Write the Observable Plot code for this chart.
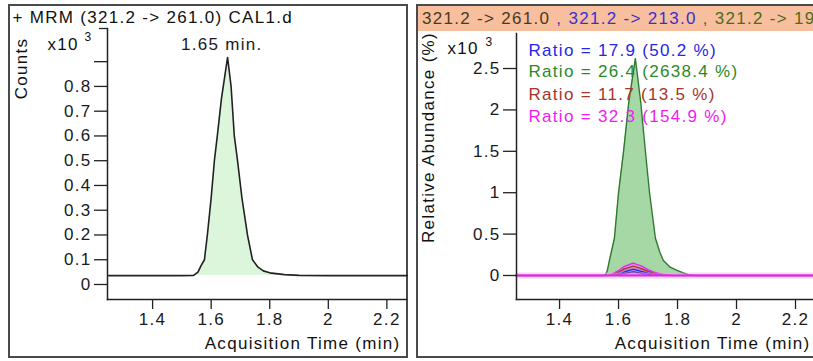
<!DOCTYPE html>
<html>
<head>
<meta charset="utf-8">
<script src="https://cdn.jsdelivr.net/npm/d3@7"></script>
<script src="https://cdn.jsdelivr.net/npm/@observablehq/plot@0.6"></script>
<style>
  html, body { margin: 0; padding: 0; background: #fff; }
  #root { position: relative; width: 813px; height: 361px; overflow: hidden; background: #fff;
          font-family: "Liberation Sans", Arial, sans-serif; }
  .panel { position: absolute; box-sizing: border-box; border: 2px solid #4a4a4a; }
  .chart { position: absolute; }
  #header { position: absolute; left: 416px; top: 4px; width: 400px; height: 27px; box-sizing: border-box;
            background: #f8bf9f; border-top: 2px solid #4a4a4a; border-left: 2px solid #4a4a4a;
            font-size: 17px; letter-spacing: 1.3px; line-height: 25px; padding-left: 4px; white-space: nowrap; overflow: hidden; }
</style>
</head>
<body>
<div id="root">
  <div class="panel" style="left:8px; top:4px; width:400px; height:354px;"></div>
  <div class="panel" style="left:416px; top:4px; width:420px; height:354px;"></div>
  <div id="header"></div>
</div>
<script>
// ---------- data ----------
const xTicks = [1.4, 1.6, 1.8, 2, 2.2];

// Left: MRM (321.2 -> 261.0) CAL1.d, counts x10^3
const leftTime   = [1.25, 1.50, 1.54, 1.555, 1.565, 1.577, 1.587, 1.60, 1.611, 1.621, 1.635, 1.656, 1.668, 1.679, 1.690, 1.705, 1.724, 1.741, 1.76, 1.778, 1.80, 1.85, 1.90, 2.0, 2.27];
const leftCounts = [0.036, 0.036, 0.037, 0.05, 0.075, 0.10, 0.20, 0.35, 0.50, 0.60, 0.75, 0.917, 0.80, 0.60, 0.50, 0.35, 0.20, 0.10, 0.07, 0.055, 0.047, 0.040, 0.037, 0.036, 0.036];
const leftBaseline = 0.036;
const leftYTicks = [0, 0.1, 0.2, 0.3, 0.4, 0.5, 0.6, 0.7, 0.8, 0.9];
const leftYLabels = ["0", "0.1", "0.2", "0.3", "0.4", "0.5", "0.6", "0.7", "0.8", ""];
const leftPeakLabel = "1.65 min.";
const leftPeakTime = 1.65;
const leftPeakValue = 0.917;

// Right: overlaid transitions, relative abundance x10^3
const rightTime1  = [1.25, 1.55, 1.556, 1.562, 1.569, 1.586, 1.600, 1.617, 1.635, 1.657, 1.675, 1.691, 1.705, 1.725, 1.740, 1.752, 1.775, 1.800, 1.82, 1.837, 1.86, 2.27];
const rightGreen  = [0, 0, 0.01, 0.06, 0.18, 0.45, 1.0, 1.5, 2.1, 2.62, 2.1, 1.5, 1.0, 0.45, 0.28, 0.18, 0.10, 0.06, 0.03, 0.01, 0, 0];
const rightTimeM  = [1.25, 1.56, 1.58, 1.60, 1.62, 1.65, 1.68, 1.70, 1.72, 1.75, 1.78, 2.27];
const rightMagenta= [0, 0, 0.02, 0.06, 0.11, 0.15, 0.11, 0.07, 0.04, 0.015, 0, 0];
const rightTimeB  = [1.25, 1.57, 1.60, 1.62, 1.65, 1.68, 1.70, 1.73, 1.76, 2.27];
const rightBrown  = [0, 0, 0.04, 0.08, 0.115, 0.08, 0.05, 0.02, 0, 0];
const rightTimeL  = [1.25, 1.58, 1.61, 1.63, 1.65, 1.67, 1.70, 1.73, 1.75, 2.27];
const rightBlue   = [0, 0, 0.03, 0.055, 0.075, 0.055, 0.03, 0.01, 0, 0];
const rightTimeP  = [1.25, 1.59, 1.62, 1.65, 1.68, 1.71, 1.73, 2.27];
const rightPurple = [0, 0, 0.025, 0.045, 0.025, 0.008, 0, 0];
const rightYTicks = [0, 0.5, 1, 1.5, 2, 2.5];
const rightYLabels = ["0", "0.5", "1", "1.5", "2", "2.5"];

const ratioLabels = ["Ratio = 17.9 (50.2 %)", "Ratio = 26.4 (2638.4 %)", "Ratio = 11.7 (13.5 %)", "Ratio = 32.3 (154.9 %)"];
const ratioColors = ["#2626e6", "#2a8a2a", "#a8342a", "#f020f0"];

const headerParts = ["321.2 -> 261.0", " , 321.2 -> 213.0", " , 321.2 -> 195.0"];
const headerColors = ["#4a3a1c", "#3a2fd0", "#4d6a1a"];

const leftTitle = "+ MRM (321.2 -> 261.0) CAL1.d";
const leftYTitle = "Counts";
const rightYTitle = "Relative Abundance (%)";
const xTitle = "Acquisition Time (min)";

// ---------- helpers ----------
const zip = (t, v) => t.map((x, i) => ({t: x, v: v[i]}));
const style = "font-family: 'Liberation Sans', Arial, sans-serif; font-size: 17px; letter-spacing: 1.3px; color: #1a1a1a; background: transparent; overflow: visible;";
const txt = (s, o) => Plot.text([s], {frameAnchor: "top-left", lineAnchor: "middle", textAnchor: "start", fill: "#111", ...o});

// ---------- left chart ----------
const left = Plot.plot({
  width: 399, height: 352,
  marginLeft: 99, marginRight: 1, marginTop: 23, marginBottom: 58,
  style,
  x: {domain: [1.246, 2.267]},
  y: {domain: [-0.0606, 1.034]},
  marks: [
    Plot.areaY(zip(leftTime, leftCounts), {x: "t", y1: () => leftBaseline, y2: "v", fill: "#dcf6dc"}),
    Plot.lineY(zip(leftTime, leftCounts), {x: "t", y: "v", stroke: "#222", strokeWidth: 1.6}),
    Plot.axisY({ticks: leftYTicks, tickSize: 13, tickPadding: 3, label: null,
      tickFormat: d => leftYLabels[leftYTicks.indexOf(d)], stroke: "#222", strokeWidth: 1.3}),
    Plot.axisY({ticks: [1.034], tickSize: 8, tickFormat: () => "", label: null, stroke: "#222", strokeWidth: 1.3}),
    Plot.axisX({ticks: xTicks, tickSize: 10, tickPadding: 3, label: null, tickFormat: d => String(d), stroke: "#222", strokeWidth: 1.3}),
    Plot.frame({anchor: "left", stroke: "#222", strokeWidth: 1.5}),
    Plot.frame({anchor: "bottom", stroke: "#222", strokeWidth: 1.5}),
    Plot.text([leftPeakLabel], {x: () => leftPeakTime, y: () => leftPeakValue, dy: -13, dx: -4, fill: "#1a1a1a"}),
    txt(leftTitle, {dx: -95, dy: -11}),
    txt(leftYTitle, {dx: -86, dy: 40, rotate: -90, textAnchor: "middle"}),
    txt("x10", {dx: -60, dy: 16}),
    txt("3", {dx: -23, dy: 9, fontSize: 12}),
    Plot.text([xTitle], {frameAnchor: "bottom-right", lineAnchor: "middle", dx: -6, dy: 44, textAnchor: "end", fill: "#111"})
  ]
});
left.classList.add("chart");
left.style.left = "8px"; left.style.top = "5px";

// ---------- right chart ----------
const ratioOffsets = [17, 38, 61, 83];
const ratioMarks = ratioLabels.map((lab, i) => txt(lab, {dx: 12, dy: ratioOffsets[i], fill: ratioColors[i]}));

const right = Plot.plot({
  width: 397, height: 352,
  marginLeft: 100, marginRight: 0, marginTop: 28, marginBottom: 58,
  style,
  x: {domain: [1.254, 2.261]},
  y: {domain: [-0.29, 2.923]},
  marks: [
    Plot.areaY(zip(rightTime1, rightGreen), {x: "t", y: "v", fill: "#a6d8a6"}),
    Plot.lineY(zip(rightTime1, rightGreen), {x: "t", y: "v", stroke: "#2e7a2e", strokeWidth: 1.4}),
    Plot.areaY(zip(rightTimeM, rightMagenta), {x: "t", y: "v", fill: "#f080f0", fillOpacity: 0.6}),
    Plot.lineY(zip(rightTimeM, rightMagenta), {x: "t", y: "v", stroke: "#ee22ee", strokeWidth: 1.4}),
    Plot.areaY(zip(rightTimeB, rightBrown), {x: "t", y: "v", fill: "#c060c0", fillOpacity: 0.5}),
    Plot.lineY(zip(rightTimeB, rightBrown), {x: "t", y: "v", stroke: "#a8342a", strokeWidth: 1.2}),
    Plot.areaY(zip(rightTimeL, rightBlue), {x: "t", y: "v", fill: "#9a9af0", fillOpacity: 0.7}),
    Plot.lineY(zip(rightTimeL, rightBlue), {x: "t", y: "v", stroke: "#2626e6", strokeWidth: 1.2}),
    Plot.lineY(zip(rightTimeP, rightPurple), {x: "t", y: "v", stroke: "#5a1a8a", strokeWidth: 1.2}),
    Plot.ruleY([0], {stroke: "#f6a6f6", strokeWidth: 6, strokeOpacity: 0.45}),
    Plot.ruleY([0], {stroke: "#e81ee8", strokeWidth: 2}),
    Plot.axisY({ticks: rightYTicks, tickSize: 13, tickPadding: 3, label: null,
      tickFormat: d => rightYLabels[rightYTicks.indexOf(d)], stroke: "#222", strokeWidth: 1.3}),
    Plot.axisX({ticks: xTicks, tickSize: 10, tickPadding: 3, label: null, tickFormat: d => String(d), stroke: "#222", strokeWidth: 1.3}),
    Plot.frame({anchor: "left", stroke: "#222", strokeWidth: 1.5}),
    Plot.frame({anchor: "bottom", stroke: "#222", strokeWidth: 1.5}),
    ...ratioMarks,
    txt("x10", {dx: -69, dy: 15}),
    txt("3", {dx: -31, dy: 9, fontSize: 12}),
    txt(rightYTitle, {dx: -88, dy: 104, rotate: -90, textAnchor: "middle"}),
    Plot.text([xTitle], {frameAnchor: "bottom-right", lineAnchor: "middle", dx: -3, dy: 44, textAnchor: "end", fill: "#111"})
  ]
});
right.classList.add("chart");
right.style.left = "416px"; right.style.top = "5px";

const root = document.getElementById("root");
root.appendChild(left);
root.appendChild(right);

const header = document.getElementById("header");
headerParts.forEach((p, i) => {
  const s = document.createElement("span");
  s.textContent = p;
  s.style.color = headerColors[i];
  header.appendChild(s);
});
</script>
</body>
</html>
